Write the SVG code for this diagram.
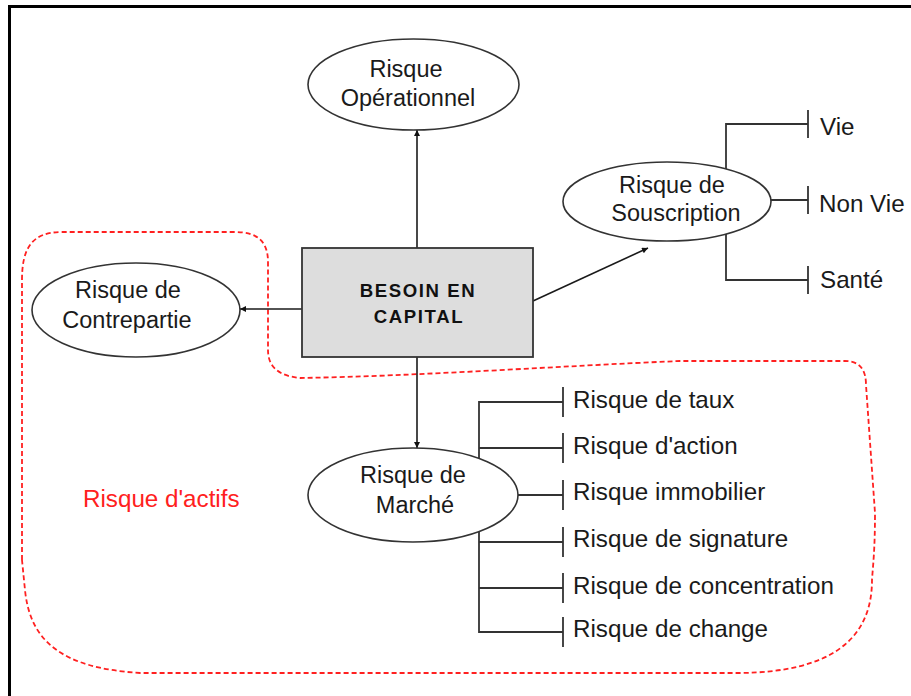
<svg xmlns="http://www.w3.org/2000/svg" width="911" height="696" viewBox="0 0 911 696">
  <style>
    .node { fill: #ffffff; stroke: #333333; stroke-width: 1.6; }
    .box { fill: #dddddd; stroke: #333333; stroke-width: 1.8; }
    .lbl { font-family: "Liberation Sans", Arial, sans-serif; font-size: 23.5px; fill: #1a1a1a; }
    .item { font-size: 24.2px; }
    .mid { text-anchor: middle; }
    .bold { font-family: "Liberation Sans", Arial, sans-serif; font-size: 18.6px; font-weight: bold; letter-spacing: 1.6px; fill: #111111; text-anchor: middle; }
    .conn { fill: none; stroke: #1a1a1a; stroke-width: 1.6; }
    .br { fill: none; stroke: #333333; stroke-width: 1.8; }
    .zone { fill: none; stroke: #ff2020; stroke-width: 1.8; stroke-dasharray: 5 3; }
  </style>
  <defs>
    <marker id="arrow" viewBox="0 0 10 10" refX="10" refY="5" markerWidth="7" markerHeight="6" markerUnits="userSpaceOnUse" orient="auto">
      <path d="M0,0 L10,5 L0,10 Z" fill="#111111"/>
    </marker>
  </defs>

  <rect width="911" height="696" fill="#ffffff"/>
  <!-- page frame -->
  <path d="M9.5,696 L9.5,6.5 L911,6.5" fill="none" stroke="#000000" stroke-width="3"/>

  <!-- asset-risk grouping outline -->
  <path class="zone" d="M22,560 L22,280 C22,248 32,232 62,232 L235,232 C258,232 268,242 268,262 L268,350 C268,368 280,376 300,378 C420,376 560,366 680,361 L845,361 C860,361 866,370 866,385 L875,513 C875,550 873,565 872,580 C872,640 830,672 740,673 L140,673 C60,668 30,640 25,590 Z"/>
  <text class="lbl item" x="83" y="507" style="fill:#ff2020">Risque d'actifs</text>

  <g id="connectors">
    <line class="conn" x1="417" y1="248" x2="417" y2="130" marker-end="url(#arrow)"/>
    <line class="conn" x1="302" y1="309" x2="240" y2="309" marker-end="url(#arrow)"/>
    <line class="conn" x1="417" y1="357" x2="417" y2="448" marker-end="url(#arrow)"/>
    <line class="conn" x1="533" y1="301" x2="648" y2="248" marker-end="url(#arrow)"/>

    <!-- underwriting branches -->
    <path class="br" d="M726,169 L726,124 L808,124 M771,200 L808,200 M726,234 L726,280 L808,280"/>
    <path class="br" d="M808,110 L808,138 M808,186 L808,214 M808,266 L808,294"/>

    <!-- market branches -->
    <path class="br" d="M479,458 L479,402 L563,402 M479,448 L563,448 M518,495 L563,495 M479,532 L479,632 L563,632 M479,542 L563,542 M479,588 L563,588"/>
    <path class="br" d="M563,387 L563,417 M563,433 L563,463 M563,480 L563,510 M563,527 L563,557 M563,573 L563,603 M563,617 L563,647"/>
  </g>

  <g id="besoin">
    <rect class="box" x="302" y="248" width="231" height="109"/>
    <text class="bold" x="418" y="297">BESOIN EN</text>
    <text class="bold" x="419" y="323">CAPITAL</text>
  </g>

  <g id="operationnel">
    <ellipse class="node" cx="413.5" cy="84.5" rx="105.5" ry="45.5"/>
    <text class="lbl mid" x="406" y="77">Risque</text>
    <text class="lbl mid" x="408" y="106">Opérationnel</text>
  </g>

  <g id="souscription">
    <ellipse class="node" cx="667" cy="201.5" rx="104" ry="39.5"/>
    <text class="lbl mid" x="672" y="193">Risque de</text>
    <text class="lbl mid" x="676" y="221">Souscription</text>
  </g>

  <g id="contrepartie">
    <ellipse class="node" cx="136" cy="310" rx="104" ry="47"/>
    <text class="lbl mid" x="128" y="298">Risque de</text>
    <text class="lbl mid" x="127" y="328">Contrepartie</text>
  </g>

  <g id="marche">
    <ellipse class="node" cx="413" cy="495" rx="105" ry="47"/>
    <text class="lbl mid" x="413" y="483">Risque de</text>
    <text class="lbl mid" x="415" y="513">Marché</text>
  </g>

  <g id="souscription-items">
    <text class="lbl item" x="820" y="135">Vie</text>
    <text class="lbl item" x="819" y="212">Non Vie</text>
    <text class="lbl item" x="820" y="288">Santé</text>
  </g>

  <g id="marche-items">
    <text class="lbl item" x="573" y="408">Risque de taux</text>
    <text class="lbl item" x="573" y="454">Risque d'action</text>
    <text class="lbl item" x="573" y="500">Risque immobilier</text>
    <text class="lbl item" x="573" y="547">Risque de signature</text>
    <text class="lbl item" x="573" y="594">Risque de concentration</text>
    <text class="lbl item" x="573" y="637">Risque de change</text>
  </g>
</svg>
